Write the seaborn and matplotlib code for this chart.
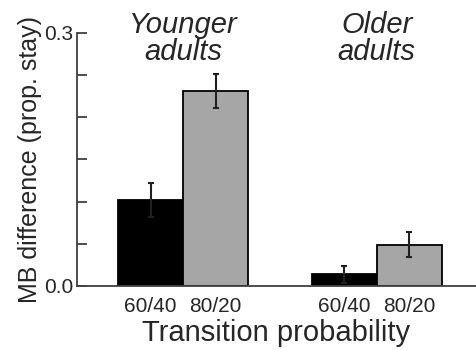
import numpy as np
import pandas as pd
import seaborn as sns
import matplotlib.pyplot as plt

# data
groups = ["Younger\nadults", "Older\nadults"]
transitions = ["60/40", "80/20"]
mb_young = [0.102, 0.231]
mb_old = [0.014, 0.049]
err_young = [0.020, 0.020]
err_old = [0.010, 0.015]

df = pd.DataFrame({
    "group": np.repeat(groups, 2),
    "transition": transitions * 2,
    "mb": mb_young + mb_old,
    "err": err_young + err_old,
})

sns.set_style("white")
plt.rcParams['font.family'] = ['Liberation Sans', 'DejaVu Sans']

fig = plt.figure(figsize=(4.76, 3.5), dpi=100)
ax = fig.add_axes([0.162, 0.183, 0.838, 0.723])

sns.barplot(data=df, x="group", y="mb", hue="transition",
            palette=["black", "#a6a6a6"], width=0.671,
            edgecolor="black", linewidth=1.3, errorbar=None,
            legend=False, ax=ax)

# error bars at the bar centres (patches come out hue by hue)
centres = []
heights = []
for p in ax.patches:
    if p.get_height() > 0:
        centres.append(p.get_x() + p.get_width() / 2)
        heights.append(p.get_height())
order = np.argsort(centres)
centres = np.array(centres)[order]
heights = np.array(heights)[order]
errs = np.array(err_young + err_old)
ax.errorbar(centres, heights, yerr=errs, fmt="none", ecolor="#202020",
            elinewidth=1.5, capsize=2.5, capthick=1.5)

ax.set_xlim(-0.547, 1.513)
ax.set_ylim(0, 0.3)
ax.set_xticks(centres)
ax.set_xticklabels(transitions * 2, fontsize=15)
ax.set_yticks(np.arange(0, 0.301, 0.05))
ax.set_yticklabels(["0.0", "", "", "", "", "", "0.3"], fontsize=15)
ax.tick_params(axis="y", direction="in", length=7, width=1.3,
               color="#404040", left=True, pad=3)
ax.tick_params(axis="x", length=0, pad=8)

for s in ["top", "right"]:
    ax.spines[s].set_visible(False)
for s in ["left", "bottom"]:
    ax.spines[s].set_color("#404040")
    ax.spines[s].set_linewidth(1.3)

ax.set_xlabel("Transition probability", fontsize=21, labelpad=2)
ax.set_ylabel("MB difference (prop. stay)", fontsize=18, labelpad=1)

for i, g in enumerate(groups):
    ax.text(i, 0.293, g, ha="center", va="center", fontsize=21,
            style="italic", linespacing=0.95)

fig.savefig("out.png", dpi=100)
